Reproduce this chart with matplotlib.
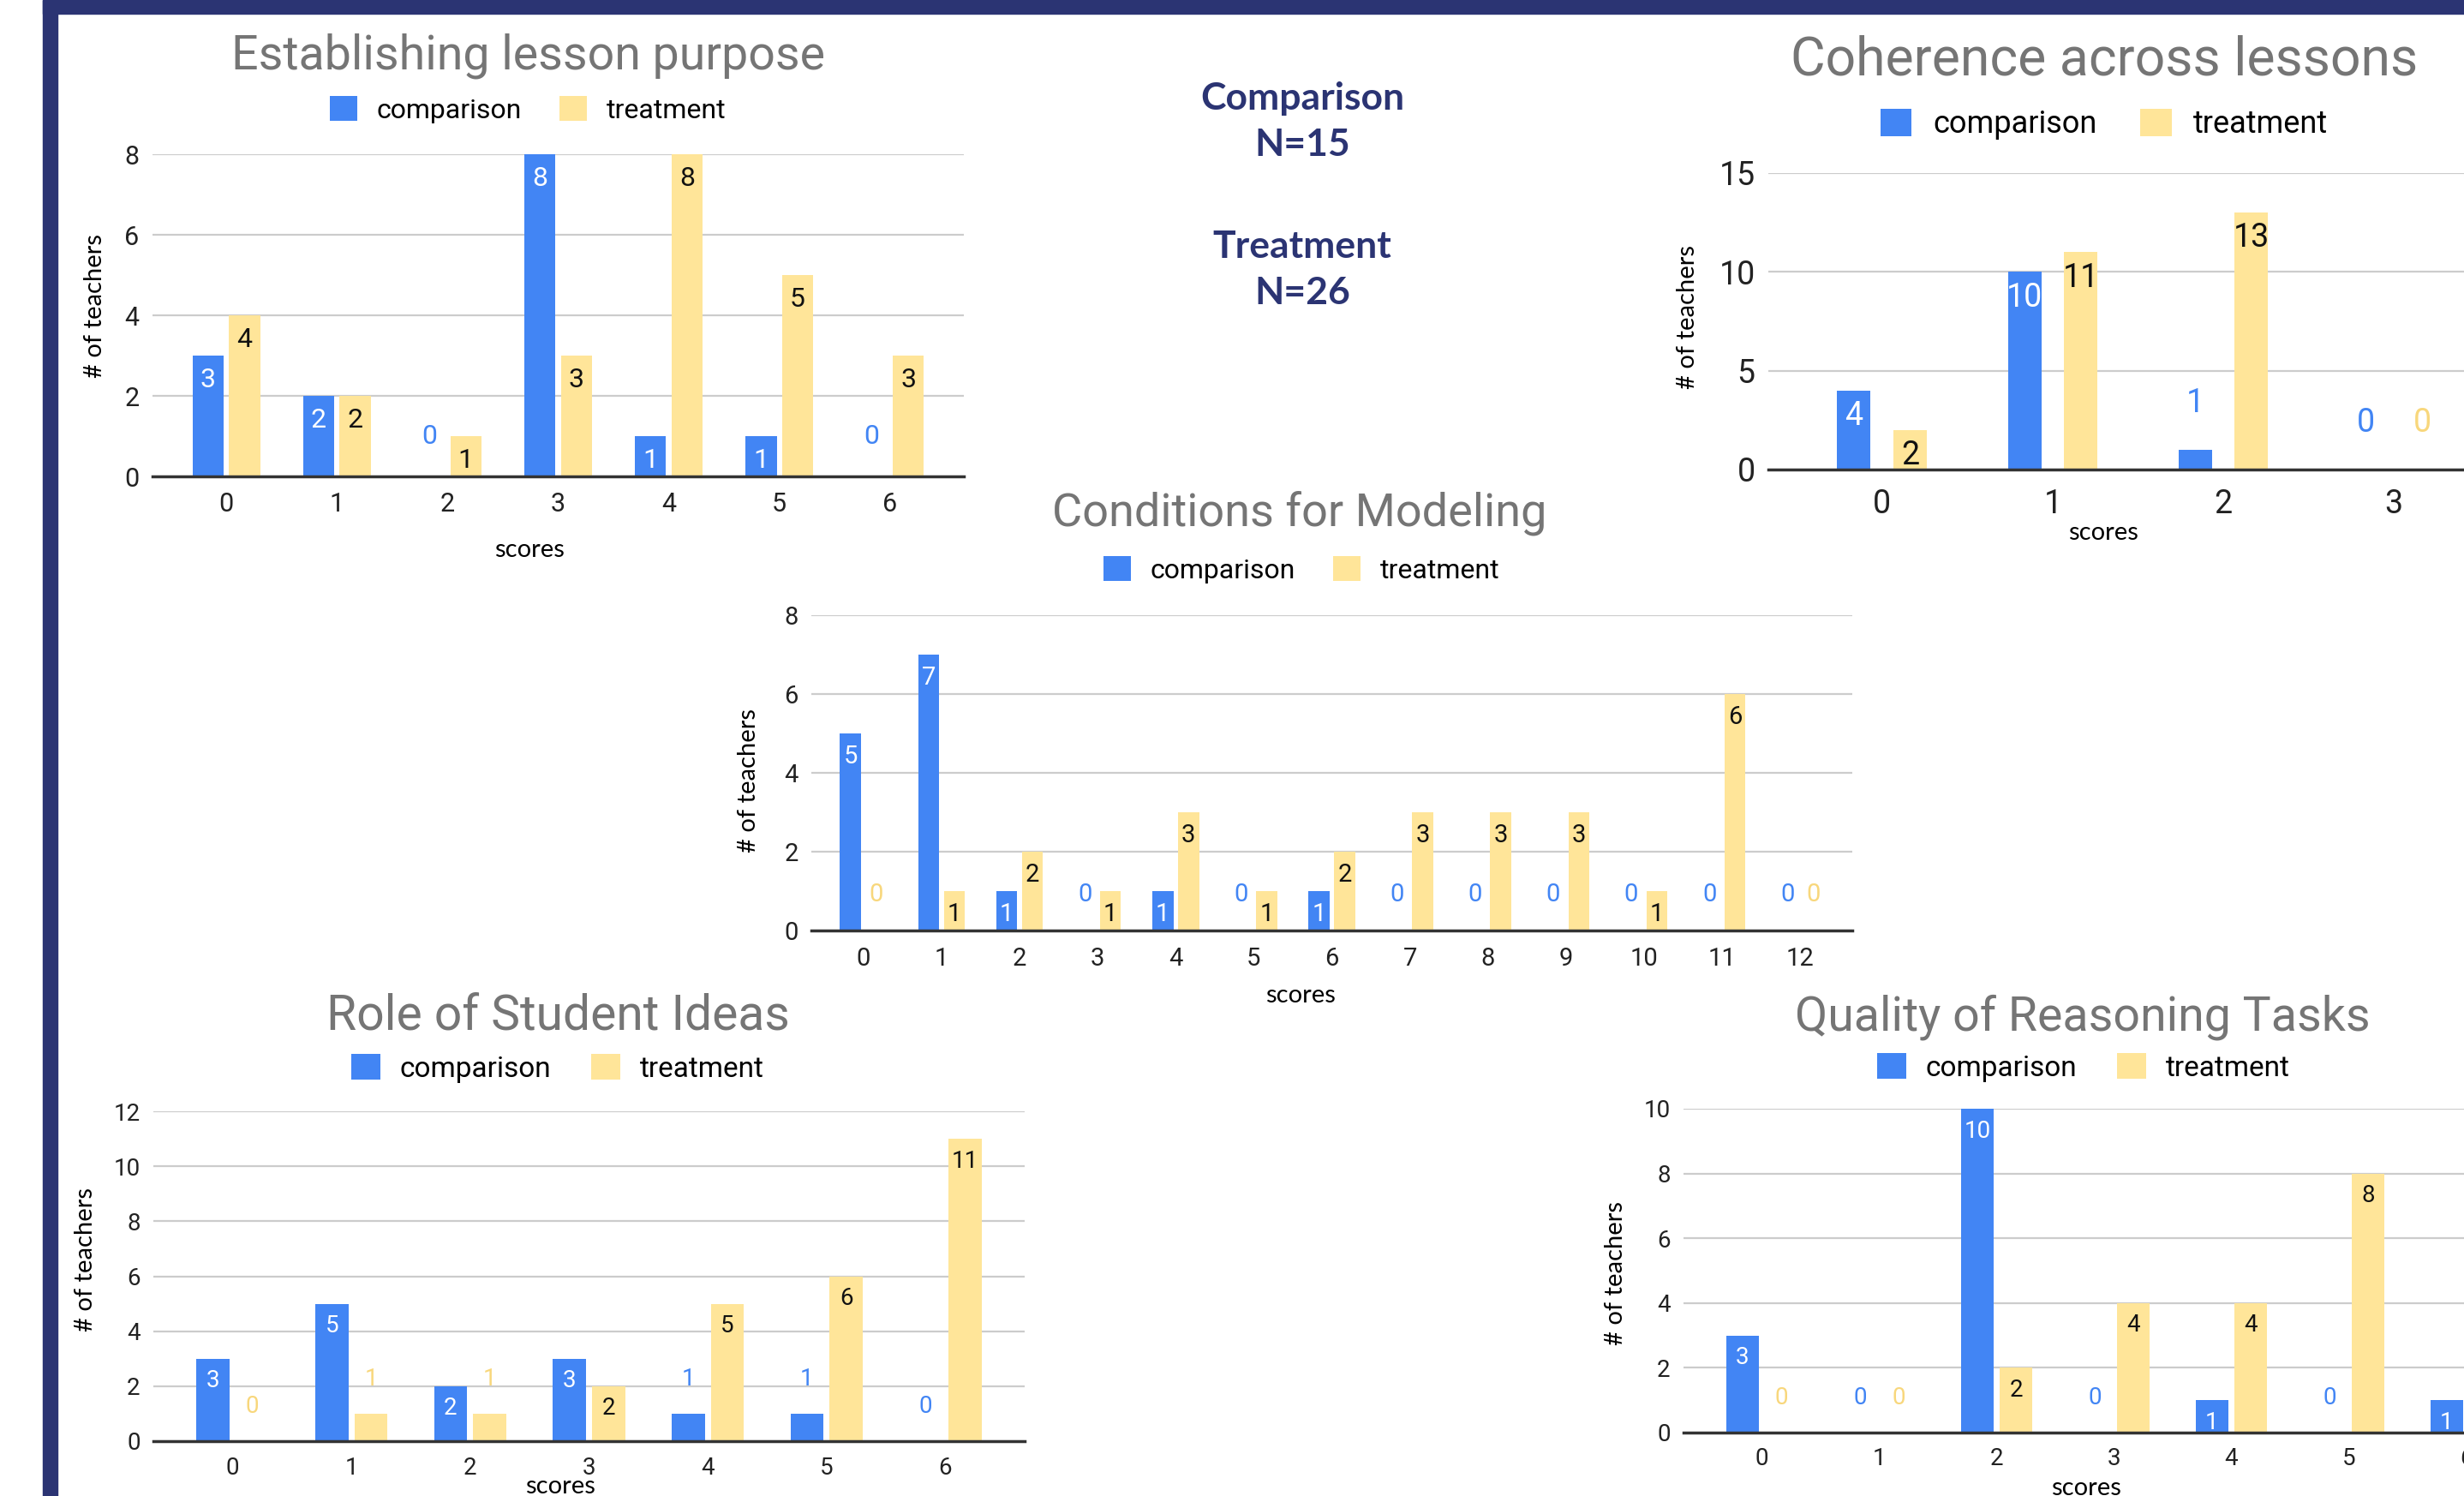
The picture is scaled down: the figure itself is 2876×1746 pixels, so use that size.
import numpy as np
import matplotlib
matplotlib.use("Agg")
import matplotlib.pyplot as plt
from matplotlib.patches import Rectangle

# Data (# of teachers per score)
purpose_scores = [0, 1, 2, 3, 4, 5, 6]
purpose_comparison = [3, 2, 0, 8, 1, 1, 0]
purpose_treatment = [4, 2, 1, 3, 8, 5, 3]

coherence_scores = [0, 1, 2, 3]
coherence_comparison = [4, 10, 1, 0]
coherence_treatment = [2, 11, 13, 0]

modeling_scores = list(range(13))
modeling_comparison = [5, 7, 1, 0, 1, 0, 1, 0, 0, 0, 0, 0, 0]
modeling_treatment = [0, 1, 2, 1, 3, 1, 2, 3, 3, 3, 1, 6, 0]

ideas_scores = [0, 1, 2, 3, 4, 5, 6]
ideas_comparison = [3, 5, 2, 3, 1, 1, 0]
ideas_treatment = [0, 1, 1, 2, 5, 6, 11]

reasoning_scores = [0, 1, 2, 3, 4, 5, 6]
reasoning_comparison = [3, 0, 10, 0, 1, 0, 1]
reasoning_treatment = [0, 0, 2, 4, 4, 8, 8]  # last bar is cut off by the slide edge

BLUE = "#4285F4"
YELLOW = "#FFE599"
YELLOW_TXT = "#F8D77C"
NAVY = "#2B3473"
W, H = 2876, 1746

fig = plt.figure(figsize=(W / 100, H / 100), dpi=100)
fig.patch.set_facecolor("white")


def fx(px):
    return px / W


def fy(py):
    return 1 - py / H


def draw_chart(title, scores, comp, treat, left, right, top, base, ymax, ystep,
               bar_w, fs_title, fs_leg, fs_tick, fs_lab, title_xy, legend_xy,
               ylabel_xy, xlabel_xy, inside_min, xpad, in_pad=0.45, off=0.165):
    ax = fig.add_axes([fx(left), fy(base), (right - left) / W, (base - top) / H])
    x = np.array(scores)
    b1 = ax.bar(x - off, comp, bar_w, color=BLUE, label="comparison", zorder=3)
    b2 = ax.bar(x + off, treat, bar_w, color=YELLOW, label="treatment", zorder=3)
    ax.set_xlim(-0.667, scores[-1] + 0.667)
    ax.set_ylim(0, ymax)
    ax.set_yticks(np.arange(0, ymax + 0.1, ystep))
    ax.set_xticks(x)
    for s in ["top", "right", "left"]:
        ax.spines[s].set_visible(False)
    ax.spines["bottom"].set_color("#333333")
    ax.spines["bottom"].set_linewidth(2.5)
    ax.spines["bottom"].set_zorder(4)
    ax.grid(axis="y", color="#CCCCCC", linewidth=1.6, zorder=0)
    ax.tick_params(length=0, labelsize=fs_tick, colors="#222222")
    ax.tick_params(axis="y", pad=11)
    ax.tick_params(axis="x", pad=xpad)
    for lab in ax.get_xticklabels() + ax.get_yticklabels():
        lab.set_fontfamily("Roboto")

    for xs, vals, txt_in, txt_out in [(x - off, comp, "white", BLUE),
                                      (x + off, treat, "#111111", YELLOW_TXT)]:
        for xi, v in zip(xs, vals):
            if v >= inside_min:
                ax.annotate(str(v), (xi, v), xytext=(0, -in_pad * fs_lab),
                            textcoords="offset points", ha="center", va="top",
                            fontsize=fs_lab, color=txt_in, family="Roboto",
                            zorder=5, annotation_clip=False)
            else:
                ax.annotate(str(v), (xi, v), xytext=(0, 1.45 * fs_lab),
                            textcoords="offset points", ha="center", va="center",
                            fontsize=fs_lab, color=txt_out, family="Roboto",
                            zorder=5, annotation_clip=False)

    fig.text(fx(title_xy[0]), fy(title_xy[1]), title, ha="center", va="center",
             fontsize=fs_title, color="#757575", family="Roboto")
    ax.legend(handles=[b1, b2], loc="center",
              bbox_to_anchor=(fx(legend_xy[0]), fy(legend_xy[1])),
              bbox_transform=fig.transFigure, ncol=2, frameon=False,
              handlelength=1.0, handleheight=1.0,
              handletextpad=0.7, columnspacing=1.4,
              prop={"family": "Roboto", "size": fs_leg})
    fig.text(fx(ylabel_xy[0]), fy(ylabel_xy[1]), "# of teachers", rotation=90,
             ha="center", va="center", fontsize=21, family="Lato", color="black")
    fig.text(fx(xlabel_xy[0]), fy(xlabel_xy[1]), "scores", ha="center",
             va="center", fontsize=21, family="Lato", color="black")
    return ax


draw_chart("Establishing lesson purpose", purpose_scores, purpose_comparison,
           purpose_treatment, 178, 1125, 180, 556, 8, 2, 0.28,
           40, 23, 22, 23, (616, 65), (616, 128), (111, 357), (618, 642), 1, 13)

draw_chart("Coherence across lessons", coherence_scores, coherence_comparison,
           coherence_treatment, 2064, 2927, 202, 548, 15, 5, 0.196,
           45, 26, 27, 27, (2456, 71), (2456, 145), (1970, 370), (2455, 622), 2, 16,
           in_pad=0.3)

draw_chart("Conditions for Modeling", modeling_scores, modeling_comparison,
           modeling_treatment, 947, 2162, 718, 1086, 8, 2, 0.27,
           39, 23, 21, 21, (1517, 599), (1519, 665), (874, 911), (1518, 1162), 1, 14)

draw_chart("Role of Student Ideas", ideas_scores, ideas_comparison,
           ideas_treatment, 179, 1196, 1297, 1682, 12, 2, 0.28,
           41, 24, 20, 20, (651, 1186), (651, 1247), (100, 1470), (654, 1735), 2, 13)

draw_chart("Quality of Reasoning Tasks", reasoning_scores, reasoning_comparison,
           reasoning_treatment, 1965, 2970, 1294, 1672, 10, 2, 0.28,
           40, 24, 20, 20, (2431, 1187), (2432, 1246), (1886, 1486), (2435, 1737), 1, 12)

# group sizes in the middle of the slide
fig.text(fx(1520), fy(142), "Comparison\nN=15", ha="center", va="center",
         fontsize=32, fontweight="bold", family="Lato", color=NAVY, linespacing=1.45)
fig.text(fx(1520), fy(315), "Treatment\nN=26", ha="center", va="center",
         fontsize=32, fontweight="bold", family="Lato", color=NAVY, linespacing=1.45)

# slide frame
fig.patches.append(Rectangle((fx(50), 0), fx(17), 1, transform=fig.transFigure,
                             color=NAVY, zorder=10))
fig.patches.append(Rectangle((fx(50), fy(16)), 1, 16 / H, transform=fig.transFigure,
                             color=NAVY, zorder=10))

fig.savefig("out.png", dpi=100)
